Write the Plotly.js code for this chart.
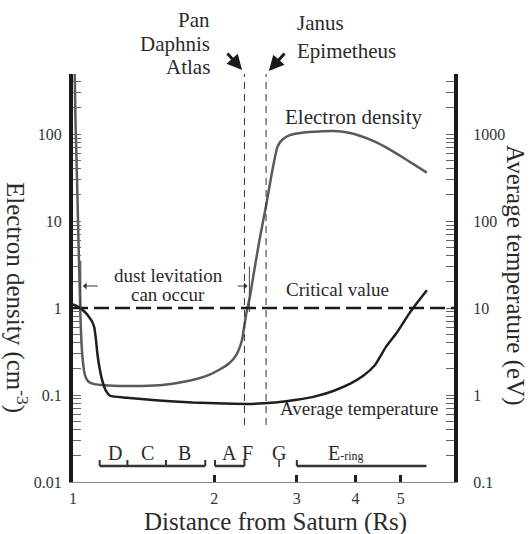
<!DOCTYPE html>
<html>
<head>
<meta charset="utf-8">
<script src="https://cdn.plot.ly/plotly-3.0.1.min.js"></script>
<style>html,body{margin:0;padding:0;background:#fff;}#chart{width:530px;height:534px;}</style>
</head>
<body>
<div id="chart"></div>
<script>
// ---- data ----
const densX = [1.008, 1.012, 1.02, 1.028, 1.034, 1.038, 1.043, 1.05, 1.06, 1.075, 1.1, 1.15, 1.25, 1.4, 1.55, 1.7, 1.85, 1.95, 2.05, 2.15, 2.23, 2.29, 2.34, 2.38, 2.44, 2.5, 2.58, 2.66, 2.73, 2.8, 2.9, 3.1, 3.35, 3.6, 3.85, 4.1, 4.4, 4.7, 5.1, 5.68];
const densY = [600, 150, 30, 5, 1.5, 0.7, 0.38, 0.24, 0.17, 0.145, 0.135, 0.13, 0.127, 0.127, 0.13, 0.14, 0.155, 0.17, 0.195, 0.23, 0.29, 0.42, 0.85, 1.3, 2.9, 6.2, 15, 38, 72, 87, 97, 104, 107, 108, 104, 95, 82, 68, 52, 36];
const tempX = [1.0, 1.03, 1.06, 1.08, 1.098, 1.11, 1.12, 1.127, 1.14, 1.155, 1.175, 1.2, 1.3, 1.5, 1.8, 2.1, 2.4, 2.7, 3.0, 3.3, 3.6, 3.9, 4.15, 4.4, 4.65, 4.9, 5.2, 5.45, 5.68];
const tempY = [11, 10.2, 9, 8, 7, 6, 4.2, 3.0, 2.0, 1.45, 1.12, 0.98, 0.93, 0.87, 0.82, 0.8, 0.79, 0.82, 0.88, 0.97, 1.12, 1.35, 1.65, 2.2, 3.6, 5.2, 8.5, 12, 16];
const criticalValue = 1;
const xTickVals = [1, 2, 3, 4, 5];
const xTickLabels = ['1', '2', '3', '4', '5'];
const leftTickLabels = ['0.01', '0.1', '1', '10', '100'];
const rightTickLabels = ['0.1', '1', '10', '100', '1000'];
const moonGroupX = [2.32, 2.58];
const moonNamesInner = ['Pan', 'Daphnis', 'Atlas'];
const moonNamesOuter = ['Janus', 'Epimetheus'];
const ringSegStarts = [1.14, 2.008, 3.0];
const ringSegEnds = [1.914, 2.32, 5.67];
const ringDividers = [1.306, 1.578];
const ringLabels = ['D', 'C', 'B', 'A', 'F', 'G', 'E'];
const ringLabelX = [1.23, 1.44, 1.73, 2.16, 2.35, 2.75, 3.6];
const gRingX = 2.75;
const dustLevStart = 1.039;
const dustLevEnd = 2.377;

// ---- layout helpers ----
const FONT = '"Liberation Serif", "Times New Roman", serif';
const L = 73, R = 454, T = 74, B = 482;
const pX = px => (px - L) / (R - L);
const pY = py => (B - py) / (B - T);
const lg = Math.log10;

function logTicks(lo, hi, labels) {
  const vals = [], text = [];
  let k = 0;
  for (let e = lo; e <= hi; e++) {
    for (let m = 1; m <= 9; m++) {
      vals.push(m * Math.pow(10, e));
      text.push(m === 1 ? (labels[k] || '') : '');
    }
    k++;
  }
  return {vals, text};
}
const lt = logTicks(-2, 2, leftTickLabels);
const rt = logTicks(-1, 3, rightTickLabels);

const traces = [
  {x: densX, y: densY, yaxis: 'y', mode: 'lines', line: {color: '#5a5a5a', width: 2.5, shape: 'spline', smoothing: 0.5}, hoverinfo: 'skip'},
  {x: tempX, y: tempY, yaxis: 'y2', mode: 'lines', line: {color: '#1e1e1e', width: 2.5, shape: 'spline', smoothing: 0.5}, hoverinfo: 'skip'}
];

const shapes = [];
shapes.push({type: 'line', xref: 'paper', x0: 0, x1: 1, yref: 'y', y0: criticalValue, y1: criticalValue, line: {color: '#1a1a1a', width: 2.5, dash: '15px,6px'}});
moonGroupX.forEach(mx => shapes.push({type: 'line', xref: 'x', x0: mx, x1: mx, yref: 'paper', y0: pY(425), y1: 1, line: {color: '#333', width: 1, dash: '7px,5px'}}));
shapes.push({type: 'line', xref: 'x', x0: dustLevStart, x1: dustLevStart, yref: 'y', y0: 0.95, y1: 3.5, line: {color: '#444', width: 1}});
shapes.push({type: 'line', xref: 'x', x0: dustLevEnd, x1: dustLevEnd, yref: 'y', y0: 0.9, y1: 3.0, line: {color: '#444', width: 1}});
const barY = pY(466), capY = pY(460);
ringSegStarts.forEach((s, i) => {
  const e = ringSegEnds[i];
  shapes.push({type: 'line', xref: 'x', x0: s, x1: e, yref: 'paper', y0: barY, y1: barY, line: {color: '#333', width: 2.5}});
  shapes.push({type: 'line', xref: 'x', x0: s, x1: s, yref: 'paper', y0: barY, y1: capY, line: {color: '#333', width: 2}});
  if (i < 2) shapes.push({type: 'line', xref: 'x', x0: e, x1: e, yref: 'paper', y0: barY, y1: capY, line: {color: '#333', width: 2}});
});
ringDividers.forEach(d => shapes.push({type: 'line', xref: 'x', x0: d, x1: d, yref: 'paper', y0: barY, y1: capY, line: {color: '#333', width: 2}}));
shapes.push({type: 'line', xref: 'x', x0: gRingX, x1: gRingX, yref: 'paper', y0: pY(467), y1: capY, line: {color: '#333', width: 1.5}});

const annotations = [];
const txt = (text, x, y, size, opts) => Object.assign({text, x, y, xref: 'paper', yref: 'paper', showarrow: false, xanchor: 'center', yanchor: 'middle', font: {family: FONT, size, color: '#2a2a2a'}}, opts || {});
// axis titles
annotations.push(txt('Electron density (cm<sup>-3</sup>)', pX(17), pY(297), 25, {textangle: 90}));
annotations.push(txt('Average temperature (eV)', pX(515), pY(275), 25, {textangle: 90}));
annotations.push(txt('Distance from Saturn (Rs)', pX(275), pY(522), 25));
// moon labels
const innerY = [20, 44, 67];
moonNamesInner.forEach((n, i) => annotations.push(txt(n, pX(212), pY(innerY[i]), 21, {xanchor: 'right'})));
const outerY = [23, 51];
moonNamesOuter.forEach((n, i) => annotations.push(txt(n, pX(295), pY(outerY[i]), 21, {xanchor: 'left'})));
// moon arrows
annotations.push({xref: 'x', yref: 'paper', x: lg(moonGroupX[0]) - 0.005, y: pY(70), ax: -16, ay: -18, text: '', showarrow: true, arrowhead: 2, arrowsize: 1, arrowwidth: 3, arrowcolor: '#1a1a1a'});
annotations.push({xref: 'x', yref: 'paper', x: lg(moonGroupX[1]) + 0.006, y: pY(71), ax: 17, ay: -19, text: '', showarrow: true, arrowhead: 2, arrowsize: 1, arrowwidth: 3, arrowcolor: '#1a1a1a'});
// curve labels
annotations.push(txt('Electron density', pX(283), pY(117), 21, {xanchor: 'left'}));
annotations.push(txt('Critical value', pX(284), pY(289), 19, {xanchor: 'left'}));
annotations.push(txt('Average temperature', pX(278), pY(408), 19, {xanchor: 'left'}));
annotations.push(txt('dust levitation', pX(168), pY(275), 19));
annotations.push(txt('can occur', pX(168), pY(294), 19));
// dust arrows
annotations.push({xref: 'x', yref: 'y', axref: 'x', ayref: 'y', x: lg(1.05), y: lg(1.79), ax: lg(1.137), ay: lg(1.79), text: '', showarrow: true, arrowhead: 1, arrowsize: 1.2, arrowwidth: 1, arrowcolor: '#333'});
annotations.push({xref: 'x', yref: 'y', axref: 'x', ayref: 'y', x: lg(2.355), y: lg(1.79), ax: lg(2.23), ay: lg(1.79), text: '', showarrow: true, arrowhead: 1, arrowsize: 1.2, arrowwidth: 1, arrowcolor: '#333'});
// ring labels
ringLabels.forEach((r, i) => {
  const t = r === 'E' ? 'E<span style="font-size:12px">-ring</span>' : r;
  annotations.push({text: t, xref: 'x', yref: 'paper', x: lg(ringLabelX[i]), y: pY(453), showarrow: false, xanchor: r === 'E' ? 'left' : 'center', yanchor: 'middle', xshift: r === 'E' ? -8 : 0, font: {family: FONT, size: 20, color: '#2a2a2a'}});
});

const layout = {
  width: 530, height: 534,
  margin: {l: L, r: 530 - R, t: T, b: 534 - B, pad: 0},
  paper_bgcolor: '#fff', plot_bgcolor: '#fff',
  showlegend: false,
  font: {family: FONT, color: '#333'},
  xaxis: {
    type: 'log', range: [0, lg(6.49)], tickvals: xTickVals, ticktext: xTickLabels,
    ticks: 'inside', ticklen: 7, tickwidth: 3, tickcolor: '#222',
    showline: true, linecolor: '#888', linewidth: 1, showgrid: false, zeroline: false,
    tickfont: {family: FONT, size: 16, color: '#333'}, ticklabelstandoff: 2
  },
  yaxis: {
    type: 'log', range: [-2, 2.69], tickvals: lt.vals, ticktext: lt.text,
    ticks: 'inside', ticklen: 8, tickwidth: 1, tickcolor: '#666',
    showline: true, linecolor: '#1a1a1a', linewidth: 4, showgrid: false, zeroline: false,
    tickfont: {family: FONT, size: 16, color: '#333'}, ticklabelstandoff: 4
  },
  yaxis2: {
    type: 'log', range: [-1, 3.69], overlaying: 'y', side: 'right', tickvals: rt.vals, ticktext: rt.text,
    ticks: 'inside', ticklen: 8, tickwidth: 1, tickcolor: '#666',
    showline: true, linecolor: '#1a1a1a', linewidth: 4, showgrid: false, zeroline: false,
    tickfont: {family: FONT, size: 16, color: '#333'}, ticklabelstandoff: 12
  },
  shapes, annotations
};

Plotly.newPlot('chart', traces, layout, {staticPlot: true, displayModeBar: false});
</script>
</body>
</html>
